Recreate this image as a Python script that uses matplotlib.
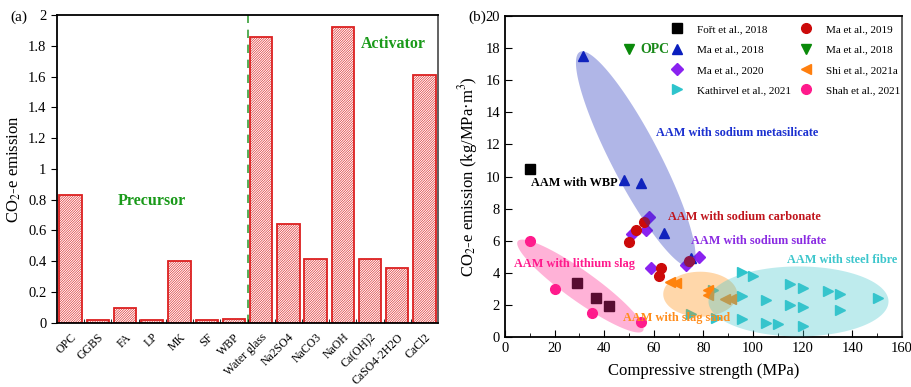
import numpy as np
import matplotlib.pyplot as plt
from matplotlib.patches import Polygon

plt.rcParams['font.family'] = ['Liberation Serif', 'DejaVu Serif']
plt.rcParams['mathtext.fontset'] = 'stix'
plt.rcParams['hatch.linewidth'] = 0.45

# ---- panel (a) data
materials = ['OPC', 'GGBS', 'FA', 'LP', 'MK', 'SF', 'WBP', 'Water glass', 'Na2SO4',
             'NaCO3', 'NaOH', 'Ca(OH)2', 'CaSO4·2H2O', 'CaCl2']
emission = [0.83, 0.02, 0.095, 0.015, 0.40, 0.02, 0.025, 1.86, 0.645,
            0.415, 1.92, 0.415, 0.355, 1.61]

# ---- panel (b) data: compressive strength (MPa), emission (kg/MPa.m3)
fort_x = [10, 29, 36.5, 42]
fort_y = [10.5, 3.4, 2.45, 1.95]
ma2019_x = [56, 53, 50, 63, 62, 74]
ma2019_y = [7.2, 6.7, 5.9, 4.3, 3.8, 4.75]
ma2018_x = [31.5, 48, 55, 64, 75]
ma2018_y = [17.5, 9.8, 9.6, 6.5, 4.9]
ma2018opc_x = [50]
ma2018opc_y = [17.95]
ma2020_x = [58, 51, 57, 59, 73, 78]
ma2020_y = [7.5, 6.4, 6.7, 4.3, 4.5, 5.0]
shi_x = [66.5, 69, 82, 82, 88.5, 91]
shi_y = [3.45, 3.35, 2.95, 2.6, 2.4, 2.4]
kath_x = [95.5, 100, 115, 120, 130, 135, 150.5, 95.5, 105, 115, 120, 135,
          95.5, 105, 110, 120, 84, 75, 85]
kath_y = [4.05, 3.8, 3.3, 3.05, 2.9, 2.7, 2.45, 2.55, 2.3, 2.0, 1.9, 1.7,
          1.1, 0.9, 0.8, 0.7, 2.95, 1.45, 1.2]
shah_x = [10, 20, 35, 55]
shah_y = [6.0, 3.0, 1.5, 0.95]

fig = plt.figure(figsize=(9.12, 3.87), dpi=100)
ax1 = fig.add_axes([0.0625, 0.166, 0.4178, 0.795])
ax2 = fig.add_axes([0.5537, 0.129, 0.4353, 0.8295])

# ================= (a)
red = '#dc2020'
xpos = np.arange(len(materials))
ax1.bar(xpos, emission, width=0.82, color='white', edgecolor=red,
        hatch='/' * 14, linewidth=1.3, zorder=2)
ax1.axvline(6.5, color='#3aa03a', linestyle=(0, (5, 4)), linewidth=1.2, zorder=1)
ax1.set_xlim(-0.5, 13.5)
ax1.set_ylim(0, 2)
ax1.set_yticks(np.arange(0, 2.01, 0.2))
ax1.set_yticklabels(['0', '0.2', '0.4', '0.6', '0.8', '1', '1.2', '1.4', '1.6', '1.8', '2'])
ax1.set_xticks(xpos)
ax1.set_xticklabels(materials, rotation=45, ha='right', rotation_mode='anchor', fontsize=8.5)
ax1.set_xticks(xpos[:-1] + 0.5, minor=True)
ax1.tick_params(axis='x', which='major', length=0, pad=6)
ax1.tick_params(axis='x', which='minor', length=3, direction='in')
ax1.tick_params(axis='y', labelsize=10.5, direction='out', length=4)
ax1.set_ylabel('CO$_2$-e emission', fontsize=12, labelpad=4)
for sp in ax1.spines.values():
    sp.set_linewidth(1.3)
ax1.spines['right'].set_color('#555555')
ax1.text(3.0, 0.79, 'Precursor', color='#1a9a1a', fontsize=11.5, fontweight='bold',
         ha='center', va='center')
ax1.text(11.87, 1.815, 'Activator', color='#1a9a1a', fontsize=11.5, fontweight='bold',
         ha='center', va='center')
fig.text(0.011, 0.955, '(a)', fontsize=11, ha='left', va='center')

# ================= (b)
ax2.set_xlim(0, 160)
ax2.set_ylim(0, 20)

ms = 7.5
ax2.plot(fort_x, fort_y, 's', color='black', ms=ms - 0.5, ls='none', label='Fořt et al., 2018', zorder=2)
ax2.plot(ma2018_x, ma2018_y, '^', color='#0a1ebe', ms=ms, ls='none', label='Ma et al., 2018', zorder=2)
ax2.plot(ma2020_x, ma2020_y, 'D', color='#8a22f0', ms=ms - 1.5, ls='none', label='Ma et al., 2020', zorder=2)
ax2.plot(kath_x, kath_y, '>', color='#2ec4cc', ms=ms, ls='none', label='Kathirvel et al., 2021', zorder=2)
ax2.plot(ma2019_x, ma2019_y, 'o', color='#cc0a0a', ms=ms - 0.5, ls='none', label='Ma et al., 2019', zorder=2)
ax2.plot(ma2018opc_x, ma2018opc_y, 'v', color='#0a8a0a', ms=ms, ls='none', label='Ma et al., 2018', zorder=2)
ax2.plot(shi_x, shi_y, '<', color='#ff7f0e', ms=ms, ls='none', label='Shi et al., 2021a', zorder=2)
ax2.plot(shah_x, shah_y, 'o', color='#ff1a8c', ms=ms - 0.5, ls='none', label='Shah et al., 2021', zorder=2)

# shaded groups: centre (data), semi-axes (px), angle (deg), colour
groups = [
    (52.7, 11.08, 121, 24, -62.5, '#1d2ebd'),
    (30.4, 3.18, 77, 15, -35.6, '#ff238d'),
    (78.7, 2.67, 37, 22.5, 0, '#ff8d0c'),
    (118.3, 2.22, 90, 35, 0, '#45c6ce'),
]
fig.canvas.draw()
bb = ax2.get_window_extent()
sx = bb.width / 160.0
sy = bb.height / 20.0
t = np.linspace(0, 2 * np.pi, 200)
for cx, cy, a, b, ang, col in groups:
    th = np.radians(ang)
    px = a * np.cos(th) * np.cos(t) - b * np.sin(th) * np.sin(t)
    py = a * np.sin(th) * np.cos(t) + b * np.cos(th) * np.sin(t)
    pts = np.column_stack([cx + px / sx, cy + py / sy])
    ax2.add_patch(Polygon(pts, closed=True, facecolor=col, edgecolor='none',
                          alpha=0.35, zorder=3))

bold = dict(fontsize=8.8, fontweight='bold', ha='left', va='center', zorder=4)
ax2.text(61, 12.7, 'AAM with sodium metasilicate', color='#1b30d0', **bold)
ax2.text(10.4, 9.57, 'AAM with WBP', color='black', **bold)
ax2.text(65.8, 7.5, 'AAM with sodium carbonate', color='#c0141c', **bold)
ax2.text(74.8, 6.0, 'AAM with sodium sulfate', color='#8a2be2', **bold)
ax2.text(113.5, 4.8, 'AAM with steel fibre', color='#3cc6cc', **bold)
ax2.text(3.8, 4.55, 'AAM with lithium slag', color='#ff1a8c', **bold)
ax2.text(47.4, 1.16, 'AAM with slag sand', color='#ff8c1a', **bold)
ax2.text(54.4, 17.9, 'OPC', color='#1a8a1a', fontsize=10, fontweight='bold',
         ha='left', va='center', zorder=4)

ax2.legend(ncol=2, frameon=False, fontsize=8, loc='upper right',
           bbox_to_anchor=(1.022, 1.005), labelspacing=0.95, handletextpad=1.2,
           columnspacing=0.75, handlelength=1.2)

ax2.set_xticks(np.arange(0, 161, 20))
ax2.set_xticks(np.arange(10, 160, 20), minor=True)
ax2.set_yticks(np.arange(0, 21, 2))
ax2.tick_params(axis='both', which='major', direction='in', length=5, labelsize=10.5)
ax2.tick_params(axis='x', which='minor', direction='in', length=3)
ax2.set_xlabel('Compressive strength (MPa)', fontsize=12, labelpad=6)
ax2.set_ylabel('CO$_2$-e emission (kg/MPa·m$^3$)', fontsize=12, labelpad=4)
for sp in ax2.spines.values():
    sp.set_linewidth(1.3)
ax2.spines['right'].set_color('#555555')
fig.text(0.514, 0.955, '(b)', fontsize=11, ha='left', va='center')

fig.savefig('out.png', dpi=100)
